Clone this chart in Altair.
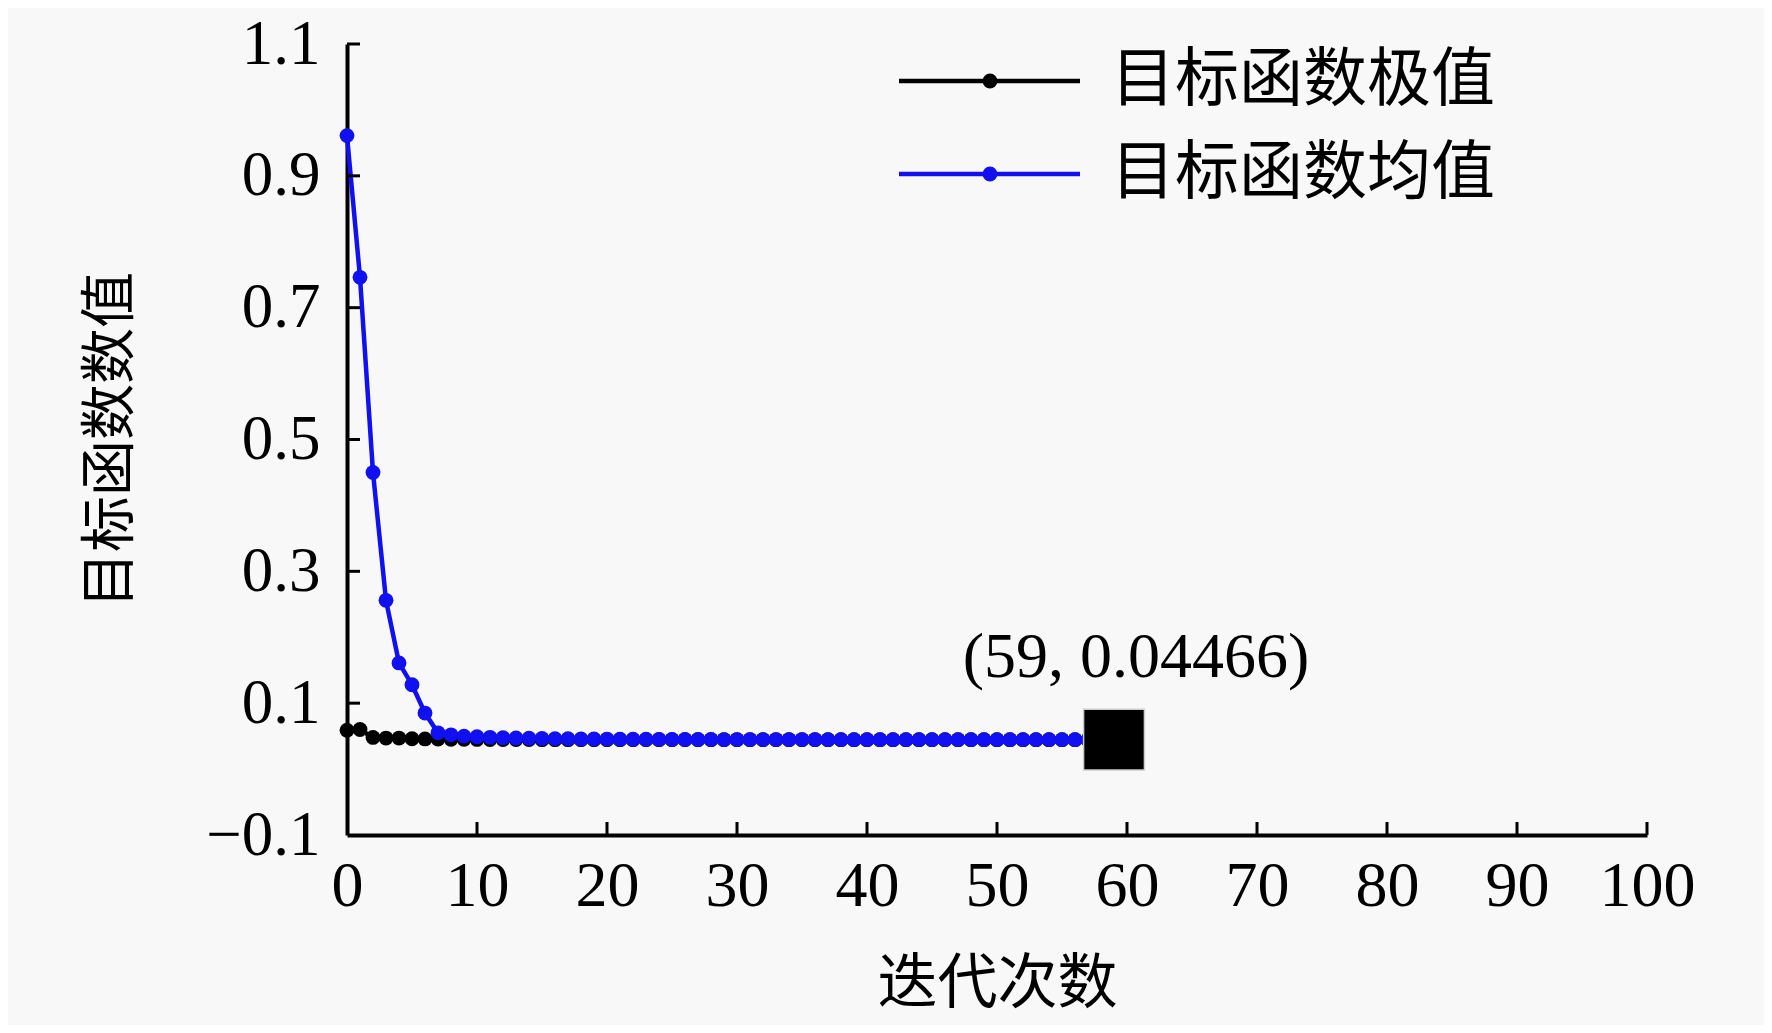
import altair as alt
import pandas as pd

# ---------------- data ----------------
iterations = list(range(60))
series_names = ["目标函数极值", "目标函数均值"]

best_values = [
    0.059, 0.060, 0.048, 0.047, 0.047, 0.046, 0.0458, 0.0455, 0.0453, 0.0451,
    0.0450, 0.0449, 0.0448, 0.0448, 0.0447, 0.04466, 0.04466, 0.04466, 0.04466, 0.04466,
    0.04466, 0.04466, 0.04466, 0.04466, 0.04466, 0.04466, 0.04466, 0.04466, 0.04466, 0.04466,
    0.04466, 0.04466, 0.04466, 0.04466, 0.04466, 0.04466, 0.04466, 0.04466, 0.04466, 0.04466,
    0.04466, 0.04466, 0.04466, 0.04466, 0.04466, 0.04466, 0.04466, 0.04466, 0.04466, 0.04466,
    0.04466, 0.04466, 0.04466, 0.04466, 0.04466, 0.04466, 0.04466, 0.04466, 0.04466, 0.04466,
]
mean_values = [
    0.961, 0.746, 0.450, 0.256, 0.161, 0.128, 0.085, 0.055, 0.052, 0.050,
    0.049, 0.0482, 0.0476, 0.0471, 0.0468, 0.0465, 0.0462, 0.0460, 0.0458, 0.0456,
    0.0455, 0.0454, 0.0453, 0.0452, 0.0451, 0.0450, 0.0450, 0.0449, 0.0449, 0.0448,
    0.0448, 0.0448, 0.0447, 0.0447, 0.0447, 0.0447, 0.0447, 0.04466, 0.04466, 0.04466,
    0.04466, 0.04466, 0.04466, 0.04466, 0.04466, 0.04466, 0.04466, 0.04466, 0.04466, 0.04466,
    0.04466, 0.04466, 0.04466, 0.04466, 0.04466, 0.04466, 0.04466, 0.04466, 0.04466, 0.04466,
]
optimum_iter = [59]
optimum_value = [0.04466]
optimum_label = ["(59, 0.04466)"]

x_ticks = [0, 10, 20, 30, 40, 50, 60, 70, 80, 90, 100]
y_ticks = [-0.1, 0.1, 0.3, 0.5, 0.7, 0.9, 1.1]

# ---------------- styles ----------------
W, H = 1300, 791
BLACK = "#000000"
BLUE = "#1010f0"
SERIF = "Liberation Serif"
CJK = "Noto Sans CJK SC"
TICK_LEN = 13
LINE_W = 4.5
PT_SIZE = 220

df_best = pd.DataFrame({"iter": iterations, "value": best_values})
df_mean = pd.DataFrame({"iter": iterations, "value": mean_values})
df_opt = pd.DataFrame({"iter": optimum_iter, "value": optimum_value, "label": optimum_label})
df_xt = pd.DataFrame({"t": x_ticks[1:]})
df_yt = pd.DataFrame({"t": y_ticks[1:]})

xscale = alt.Scale(domain=[0, 100], nice=False, zero=False)
yscale = alt.Scale(domain=[-0.1, 1.1], nice=False, zero=False)

x_axis = alt.Axis(
    values=x_ticks, format="d", grid=False, ticks=False, tickSize=0,
    domainColor=BLACK, domainWidth=4,
    labelFont=SERIF, labelFontSize=64, labelColor=BLACK, labelPadding=19,
    labelFlush=False, labelOverlap=False,
    title="迭代次数", titleFont=CJK, titleFontSize=60, titleFontWeight="normal",
    titleColor=BLACK, titleX=W / 2, titleY=149, titleBaseline="middle", titleAlign="center",
)
y_axis = alt.Axis(
    values=y_ticks, grid=False, ticks=False, tickSize=0,
    labelExpr="replace(format(datum.value, '.1f'), '-', '−')",
    domainColor=BLACK, domainWidth=4,
    labelFont=SERIF, labelFontSize=63, labelColor=BLACK, labelPadding=27,
    labelFlush=False, labelOverlap=False,
    title="目标函数数值", titleFont=CJK, titleFontSize=56, titleFontWeight="normal",
    titleColor=BLACK, titleX=-237, titleY=H / 2, titleAngle=270,
    titleBaseline="middle", titleAlign="center",
)

base_best = alt.Chart(df_best).encode(
    x=alt.X("iter:Q", scale=xscale, axis=x_axis),
    y=alt.Y("value:Q", scale=yscale, axis=y_axis),
)
best_line = base_best.mark_line(color=BLACK, strokeWidth=LINE_W)
best_pts = base_best.mark_circle(color=BLACK, size=PT_SIZE, opacity=1)

base_mean = alt.Chart(df_mean).encode(
    x=alt.X("iter:Q", scale=xscale),
    y=alt.Y("value:Q", scale=yscale),
)
mean_line = base_mean.mark_line(color=BLUE, strokeWidth=LINE_W)
mean_pts = base_mean.mark_circle(color=BLUE, size=PT_SIZE, opacity=1)

opt_square = alt.Chart(df_opt).mark_square(
    color=BLACK, size=3700, opacity=1, stroke="#cccccc", strokeWidth=1.5
).encode(x=alt.X("iter:Q", scale=xscale), y=alt.Y("value:Q", scale=yscale))

opt_text = alt.Chart(df_opt).mark_text(
    font=SERIF, fontSize=64, color=BLACK, align="center", baseline="middle", dx=22, dy=-82
).encode(x=alt.X("iter:Q", scale=xscale), y=alt.Y("value:Q", scale=yscale), text="label:N")

x_tick_rules = alt.Chart(df_xt).mark_rule(color=BLACK, strokeWidth=3).encode(
    x=alt.X("t:Q", scale=xscale), y=alt.value(H), y2=alt.value(H - TICK_LEN)
)
y_tick_rules = alt.Chart(df_yt).mark_rule(color=BLACK, strokeWidth=3).encode(
    y=alt.Y("t:Q", scale=yscale), x=alt.value(0), x2=alt.value(TICK_LEN)
)

# ---------------- legend (manual) ----------------
def legend_item(name, color, ypix):
    d = pd.DataFrame({"name": [name]})
    line = alt.Chart(d).mark_rule(color=color, strokeWidth=LINE_W).encode(
        x=alt.value(552), x2=alt.value(733), y=alt.value(ypix)
    )
    dot = alt.Chart(d).mark_circle(color=color, size=PT_SIZE, opacity=1).encode(
        x=alt.value(643), y=alt.value(ypix)
    )
    txt = alt.Chart(d).mark_text(
        font=CJK, fontSize=64, color=BLACK, align="left", baseline="middle"
    ).encode(x=alt.value(764), y=alt.value(ypix), text="name:N")
    return line + dot + txt

leg1 = legend_item(series_names[0], BLACK, 37)
leg2 = legend_item(series_names[1], BLUE, 130)

chart = alt.layer(
    best_line, best_pts, mean_line, mean_pts, opt_square, opt_text,
    x_tick_rules, y_tick_rules, leg1, leg2,
).properties(
    width=W, height=H,
    autosize=alt.AutoSizeParams(type="none"),
    padding={"left": 339, "top": 36, "right": 117, "bottom": 190},
    background="#f8f8f8",
).configure_view(stroke=None)

chart.save("out.html", embed_options={"renderer": "svg", "actions": False})
